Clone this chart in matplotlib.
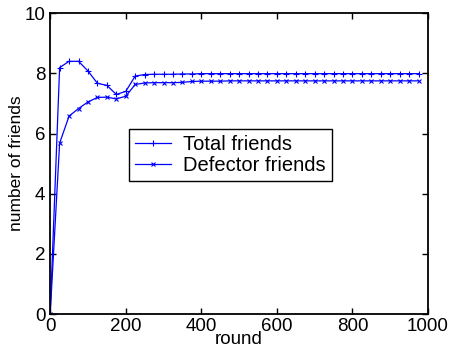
import numpy as np
import matplotlib.pyplot as plt

plt.rcParams["font.family"] = ["Liberation Sans", "DejaVu Sans"]

# rounds sampled every 25 steps
rounds = np.arange(0, 1000, 25)

total_friends = [
    0.0, 8.19, 8.40, 8.40, 8.08, 7.67, 7.60, 7.30, 7.40, 7.91,
    7.96, 7.97, 7.97, 7.97, 7.98, 7.98, 7.99, 7.99, 7.99, 7.99,
    7.99, 7.99, 7.99, 7.99, 7.99, 7.99, 7.99, 7.99, 7.99, 7.99,
    7.99, 7.99, 7.99, 7.99, 7.99, 7.99, 7.99, 7.99, 7.99, 7.99,
]

defector_friends = [
    0.0, 5.68, 6.58, 6.83, 7.05, 7.20, 7.21, 7.15, 7.24, 7.63,
    7.68, 7.69, 7.69, 7.69, 7.70, 7.73, 7.74, 7.74, 7.74, 7.75,
    7.75, 7.75, 7.75, 7.75, 7.75, 7.75, 7.75, 7.75, 7.75, 7.75,
    7.75, 7.75, 7.75, 7.75, 7.75, 7.75, 7.75, 7.75, 7.75, 7.75,
]

fig = plt.figure(figsize=(4.52, 3.55), dpi=100)
ax = fig.add_axes([0.111, 0.115, 0.836, 0.848])

ax.plot(rounds, total_friends, color="#0000ff", linewidth=0.9,
        marker="+", markersize=5, markeredgewidth=0.8,
        label="Total friends")
ax.plot(rounds, defector_friends, color="#0000ff", linewidth=0.9,
        marker="x", markersize=3.5, markeredgewidth=0.8,
        label="Defector friends")

ax.set_xlim(0, 1000)
ax.set_ylim(0, 10)
ax.set_xticks(range(0, 1001, 200))
ax.set_yticks(range(0, 11, 2))

ax.tick_params(direction="in", top=True, right=True, labelsize=13.5,
               length=4, width=1)
ax.tick_params(axis="x", pad=3)
ax.tick_params(axis="y", pad=3.5)
for sp in ax.spines.values():
    sp.set_linewidth(1.3)

ax.set_xlabel("round", fontsize=13.5, labelpad=-3)
ax.set_ylabel("number of friends", fontsize=12.5, labelpad=0)

leg = ax.legend(loc="center", bbox_to_anchor=(0.476, 0.528),
                fontsize=14.5, fancybox=False, framealpha=1,
                edgecolor="black", handlelength=1.8, handletextpad=0.6,
                borderpad=0.3, labelspacing=0.1, borderaxespad=0)
leg.get_frame().set_linewidth(1.0)

fig.savefig("out.png", dpi=100)
plt.close(fig)
